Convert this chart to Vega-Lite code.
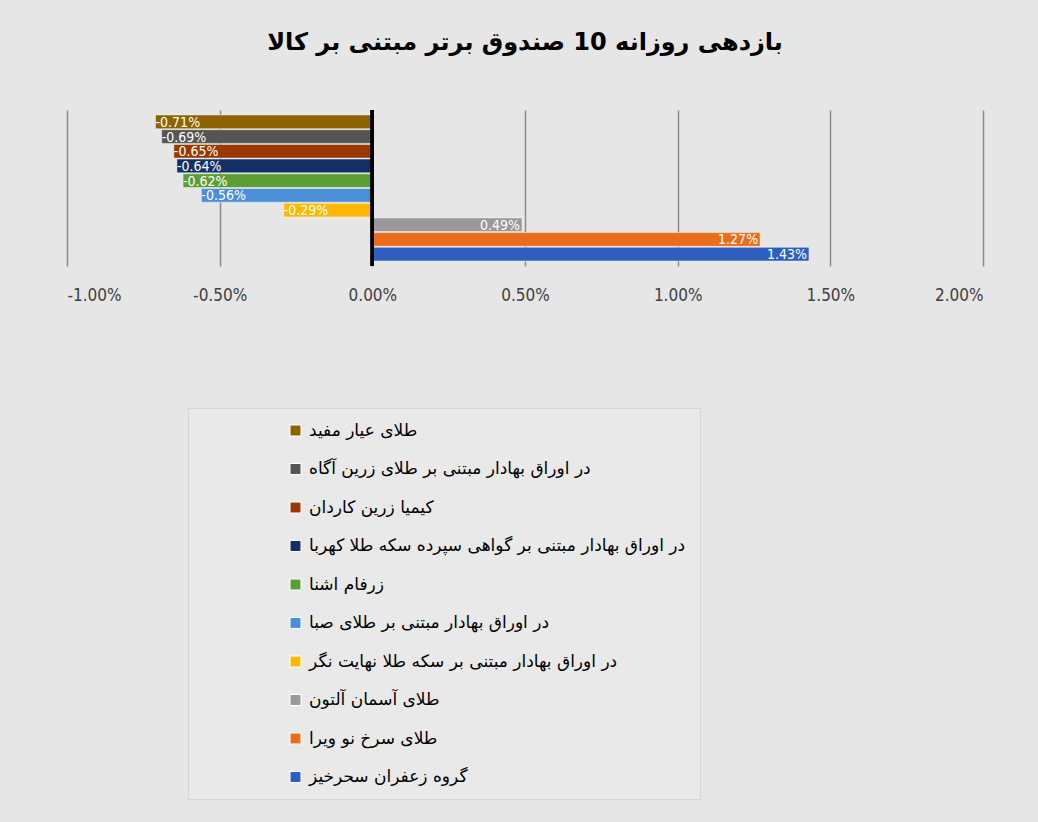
{
  "$schema": "https://vega.github.io/schema/vega-lite/v6.json",
  "width": 916,
  "height": 156,
  "padding": {"left": 67, "right": 55, "top": 30, "bottom": 22},
  "background": "#e6e6e6",
  "title": {
    "text": "بازدهی روزانه 10 صندوق برتر مبتنی بر کالا",
    "font": "DejaVu Sans",
    "fontSize": 24,
    "fontWeight": "bold",
    "color": "#000000",
    "anchor": "middle",
    "offset": 54
  },
  "config": {
    "view": {"stroke": null},
    "locale": {"number": {"decimal": ".", "thousands": ",", "grouping": [3], "currency": ["$", ""], "minus": "-"}}
  },
  "data": {
    "values": [
      {"fund": "طلای عیار مفید", "v": -0.0071},
      {"fund": "در اوراق بهادار مبتنی بر طلای زرین آگاه", "v": -0.0069},
      {"fund": "کیمیا زرین کاردان", "v": -0.0065},
      {"fund": "در اوراق بهادار مبتنی بر گواهی سپرده سکه طلا کهربا", "v": -0.0064},
      {"fund": "زرفام اشنا", "v": -0.0062},
      {"fund": "در اوراق بهادار مبتنی بر طلای صبا", "v": -0.0056},
      {"fund": "در اوراق بهادار مبتنی بر سکه طلا نهایت نگر", "v": -0.0029},
      {"fund": "طلای آسمان آلتون", "v": 0.0049},
      {"fund": "طلای سرخ نو ویرا", "v": 0.0127},
      {"fund": "گروه زعفران سحرخیز", "v": 0.0143}
    ]
  },
  "layer": [
    {
      "mark": {"type": "bar", "stroke": "#ffffff", "strokeOpacity": 0.45, "strokeWidth": 1},
      "encoding": {
        "y": {"field": "fund", "type": "nominal", "sort": null, "axis": null,
              "scale": {"paddingInner": 0.07, "paddingOuter": 0.34}},
        "x": {
          "field": "v", "type": "quantitative",
          "scale": {"domain": [-0.01, 0.02], "nice": false, "zero": false},
          "axis": {
            "title": null,
            "values": [-0.01, -0.005, 0, 0.005, 0.01, 0.015, 0.02],
            "format": ".2%",
            "grid": true,
            "gridColor": "#8c8c8c",
            "gridWidth": 1.5,
            "domain": false,
            "ticks": false,
            "labelFont": "'DejaVu Sans Condensed', sans-serif",
            "labelFontSize": 17,
            "labelColor": "#404040",
            "labelPadding": 21
          }
        },
        "color": {
          "field": "fund", "type": "nominal", "sort": null,
          "scale": {
            "domain": [
              "طلای عیار مفید",
              "در اوراق بهادار مبتنی بر طلای زرین آگاه",
              "کیمیا زرین کاردان",
              "در اوراق بهادار مبتنی بر گواهی سپرده سکه طلا کهربا",
              "زرفام اشنا",
              "در اوراق بهادار مبتنی بر طلای صبا",
              "در اوراق بهادار مبتنی بر سکه طلا نهایت نگر",
              "طلای آسمان آلتون",
              "طلای سرخ نو ویرا",
              "گروه زعفران سحرخیز"
            ],
            "range": ["#8c6300", "#555555", "#993800", "#142e66", "#5c9e34", "#4a8fd8", "#ffb800", "#999999", "#e96d1c", "#2e5fc0"]
          },
          "legend": {
            "orient": "none",
            "legendX": 121,
            "legendY": 298,
            "title": null,
            "fillColor": "#e9e9e9",
            "strokeColor": "#d4d4d4",
            "padding": 14,
            "symbolOffset": 85,
            "symbolType": "square",
            "symbolSize": 120,
            "symbolStrokeColor": "#ffffff",
            "symbolStrokeWidth": 1,
            "labelFont": "DejaVu Sans",
            "labelFontSize": 17,
            "labelColor": "#000000",
            "labelOffset": 5,
            "labelLimit": 700,
            "rowPadding": 20.5
          }
        }
      }
    },
    {
      "mark": {"type": "rule", "color": "#000000", "strokeWidth": 3},
      "encoding": {"x": {"datum": 0, "type": "quantitative"}}
    },
    {
      "transform": [{"filter": "datum.v < 0"}],
      "mark": {"type": "text", "align": "left", "baseline": "middle", "dx": 0, "dy": 1, "color": "#ffffff",
               "fontSize": 14, "font": "'DejaVu Sans Condensed', sans-serif"},
      "encoding": {
        "y": {"field": "fund", "type": "nominal", "sort": null},
        "x": {"field": "v", "type": "quantitative"},
        "text": {"field": "v", "type": "quantitative", "format": ".2%"}
      }
    },
    {
      "transform": [{"filter": "datum.v >= 0"}],
      "mark": {"type": "text", "align": "right", "baseline": "middle", "dx": -2, "dy": 1, "color": "#ffffff",
               "fontSize": 14, "font": "'DejaVu Sans Condensed', sans-serif"},
      "encoding": {
        "y": {"field": "fund", "type": "nominal", "sort": null},
        "x": {"field": "v", "type": "quantitative"},
        "text": {"field": "v", "type": "quantitative", "format": ".2%"}
      }
    }
  ]
}
